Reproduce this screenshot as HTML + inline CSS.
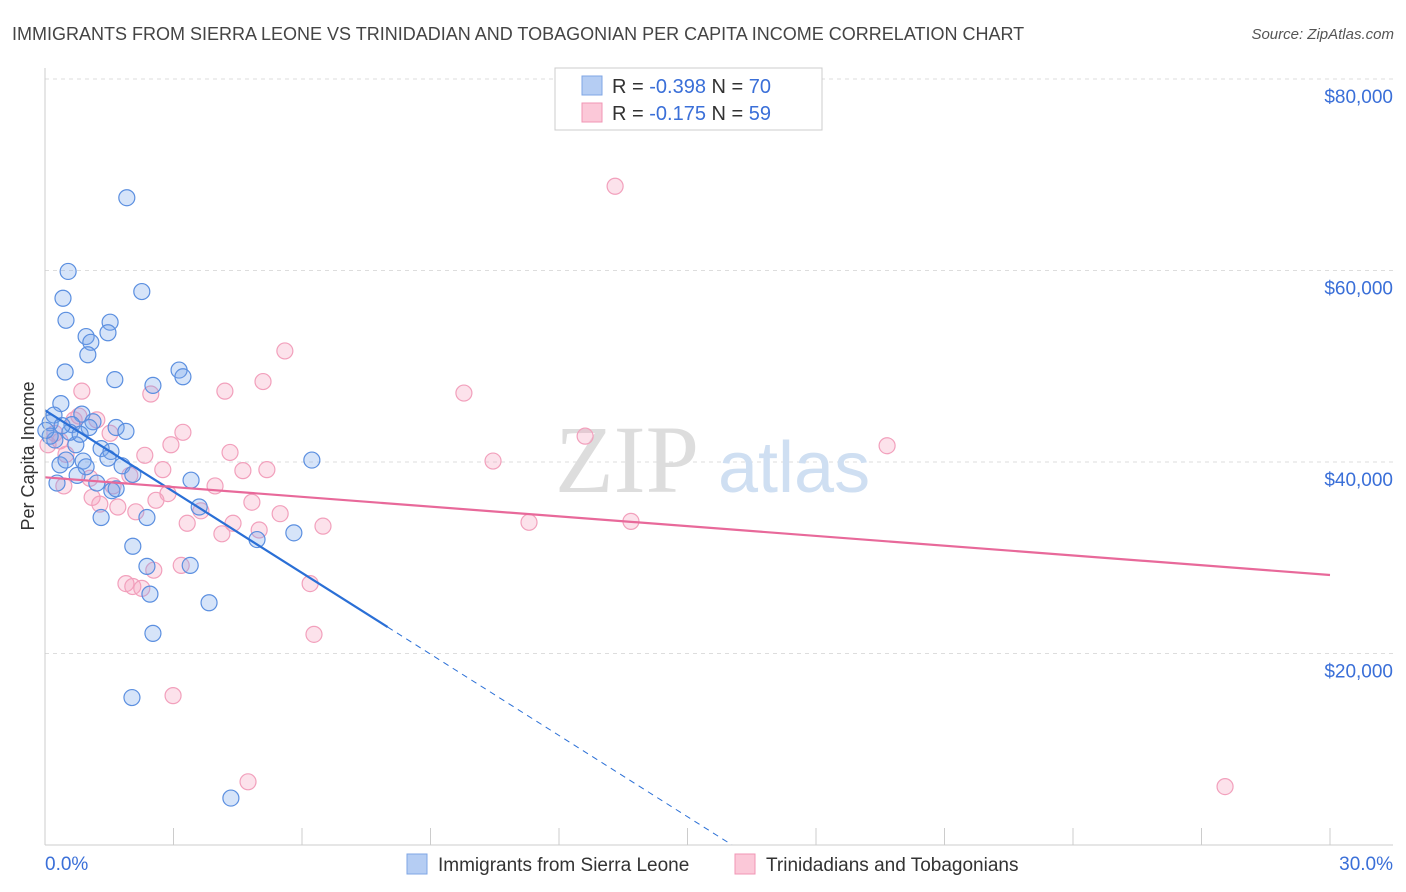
<!DOCTYPE html>
<html><head><meta charset="utf-8"><style>
body{margin:0;background:#fff;font-family:"Liberation Sans",sans-serif;}
svg{display:block}
</style></head><body>
<svg id="chart" width="1406" height="892" xmlns="http://www.w3.org/2000/svg" font-family="Liberation Sans, sans-serif">
<text x="12" y="40" font-size="18" fill="#444">IMMIGRANTS FROM SIERRA LEONE VS TRINIDADIAN AND TOBAGONIAN PER CAPITA INCOME CORRELATION CHART</text>
<text x="1394" y="39" font-size="15" fill="#555" text-anchor="end" font-style="italic">Source: ZipAtlas.com</text>
<text transform="translate(34,456) rotate(-90)" font-size="18" fill="#333" text-anchor="middle">Per Capita Income</text>
<g id="grid"></g>
<g><text x="555" y="492" font-size="96" fill="#ddd" font-family="Liberation Serif, serif">ZIP</text><text x="718" y="492" font-size="72" fill="#cfdff2">atlas</text></g>
<g id="marks"></g>
<g id="axes"></g>
<g>
<rect x="555" y="68" width="267" height="62" fill="#fff" stroke="#ccc"/>
<rect x="582" y="76" width="20" height="19" fill="#b5cdf3" stroke="#7fa6e4"/>
<rect x="582" y="103" width="20" height="19" fill="#fbc8d8" stroke="#f096b4"/>
<text x="612" y="93" font-size="20" fill="#333">R = <tspan fill="#3a6fd8">-0.398</tspan>   N = <tspan fill="#3a6fd8">70</tspan></text>
<text x="612" y="120" font-size="20" fill="#333">R =  <tspan fill="#3a6fd8">-0.175</tspan>   N =  <tspan fill="#3a6fd8">59</tspan></text>
</g>
<g>
<rect x="407" y="854" width="20" height="20" fill="#b5cdf3" stroke="#7fa6e4"/>
<text x="438" y="871" font-size="19" fill="#333">Immigrants from Sierra Leone</text>
<rect x="735" y="854" width="20" height="20" fill="#fbc8d8" stroke="#f096b4"/>
<text x="766" y="871" font-size="19" fill="#333">Trinidadians and Tobagonians</text>
</g>
</svg>
<script>
const blueX=[1.91,0.54,0.42,2.26,0.49,1.52,0.96,1.47,1.07,1.00,0.47,1.63,2.52,3.13,3.22,0.37,0.86,0.21,1.12,0.12,0.63,1.03,1.66,1.89,1.31,1.54,0.23,0.72,0.35,0.49,0.89,1.47,0.96,1.80,2.05,0.75,1.21,0.28,1.56,1.66,3.41,6.23,1.31,2.38,3.60,2.05,2.38,3.39,2.45,5.81,4.95,3.83,2.52,2.03,4.34,0.12,0.58,0.02,0.82,0.40];
const blueY=[67.6,59.9,57.1,57.8,54.8,54.6,53.1,53.5,52.5,51.2,49.4,48.6,48.0,49.6,48.9,46.1,45.0,44.9,44.2,44.1,43.9,43.6,43.6,43.2,41.4,41.1,42.3,41.8,39.7,40.2,40.1,40.4,39.5,39.6,38.7,38.6,37.8,37.8,37.0,37.2,38.1,40.2,34.2,34.2,35.3,31.2,29.1,29.2,26.2,32.6,31.9,25.3,22.1,15.4,4.9,42.7,43.1,43.3,42.9,43.8];
const pinkX=[13.31,5.60,5.09,4.20,2.47,0.86,9.78,0.79,0.68,3.22,1.52,0.23,0.35,2.94,2.33,4.32,12.61,19.66,10.46,5.18,4.62,2.75,1.98,1.05,0.44,3.97,1.59,2.87,2.59,1.10,1.28,1.70,3.64,4.83,2.12,5.49,6.49,3.32,4.39,5.00,4.13,11.30,13.68,1.89,2.05,2.54,3.18,2.26,6.19,6.28,2.99,4.74,27.55,0.49,0.07,1.21];
const pinkY=[68.8,51.6,48.4,47.4,47.1,47.4,47.2,44.8,44.4,43.1,43.0,43.0,42.2,41.8,40.7,41.0,42.7,41.7,40.1,39.2,39.1,39.2,38.6,38.3,37.5,37.5,37.5,36.7,36.0,36.3,35.6,35.3,34.9,35.8,34.8,34.6,33.3,33.6,33.6,32.9,32.5,33.7,33.8,27.3,27.0,28.7,29.2,26.8,27.3,22.0,15.6,6.6,6.1,40.8,41.8,44.4];
const yTicks=[20,40,60,80];
const yTickLabels=["$20,000","$40,000","$60,000","$80,000"];
const blueTrend=[45.4,-2.83,8.0]; // intercept, slope, solid end
const pinkTrend=[38.4,-0.34];
const NS="http://www.w3.org/2000/svg";
const X=v=>45+v*(1285/30), Y=v=>845-v*9.575;
function mk(tag,attrs,parent){const e=document.createElementNS(NS,tag);for(const k in attrs)e.setAttribute(k,attrs[k]);parent.appendChild(e);return e;}
const grid=document.getElementById('grid'),marks=document.getElementById('marks'),axes=document.getElementById('axes');
yTicks.forEach((t,i)=>{
 const l=mk('line',{x1:45,x2:1393,y1:Y(t),y2:Y(t),stroke:'#ddd','stroke-dasharray':'4,4'},grid);
 
 
 const tx=mk('text',{x:1393,y:Y(t)+24,'font-size':19,fill:'#3a6fd8','text-anchor':'end'},axes);
 tx.textContent=yTickLabels[i];
 
 
});
mk('line',{x1:45,x2:45,y1:68,y2:845,stroke:'#ccc'},axes);
mk('line',{x1:45,x2:1393,y1:845,y2:845,stroke:'#ccc'},axes);
for(let i=1;i<=10;i++){const tk=mk('line',{x1:X(i*3),x2:X(i*3),y1:828,y2:845,stroke:'#ccc'},axes);
 
 }
const xl0=mk('text',{x:45,y:870,'font-size':19,fill:'#3a6fd8'},axes);xl0.textContent='0.0%';


const xl1=mk('text',{x:1393,y:870,'font-size':19,fill:'#3a6fd8','text-anchor':'end'},axes);xl1.textContent='30.0%';


pinkX.forEach((v,i)=>{const c=mk('circle',{cx:X(v),cy:Y(pinkY[i]),r:8,fill:'rgba(246,160,190,0.3)',stroke:'#f2a0bc','stroke-width':1.2},marks);
 
 });
blueX.forEach((v,i)=>{const c=mk('circle',{cx:X(v),cy:Y(blueY[i]),r:8,fill:'rgba(120,165,235,0.3)',stroke:'#5b8fe0','stroke-width':1.2},marks);
 
 });
const bEnd=-blueTrend[0]/blueTrend[1];
const bl=mk('line',{x1:X(0),y1:Y(blueTrend[0]),x2:X(blueTrend[2]),y2:Y(blueTrend[0]+blueTrend[1]*blueTrend[2]),stroke:'#2a6fd6','stroke-width':2.2},marks);


const bd=mk('line',{x1:X(blueTrend[2]),y1:Y(blueTrend[0]+blueTrend[1]*blueTrend[2]),x2:X(bEnd),y2:Y(0),stroke:'#2a6fd6','stroke-width':1,'stroke-dasharray':'6,5'},marks);


const pl=mk('line',{x1:X(0),y1:Y(pinkTrend[0]),x2:X(30),y2:Y(pinkTrend[0]+pinkTrend[1]*30),stroke:'#e8699a','stroke-width':2.2},marks);


</script>
</body></html>
